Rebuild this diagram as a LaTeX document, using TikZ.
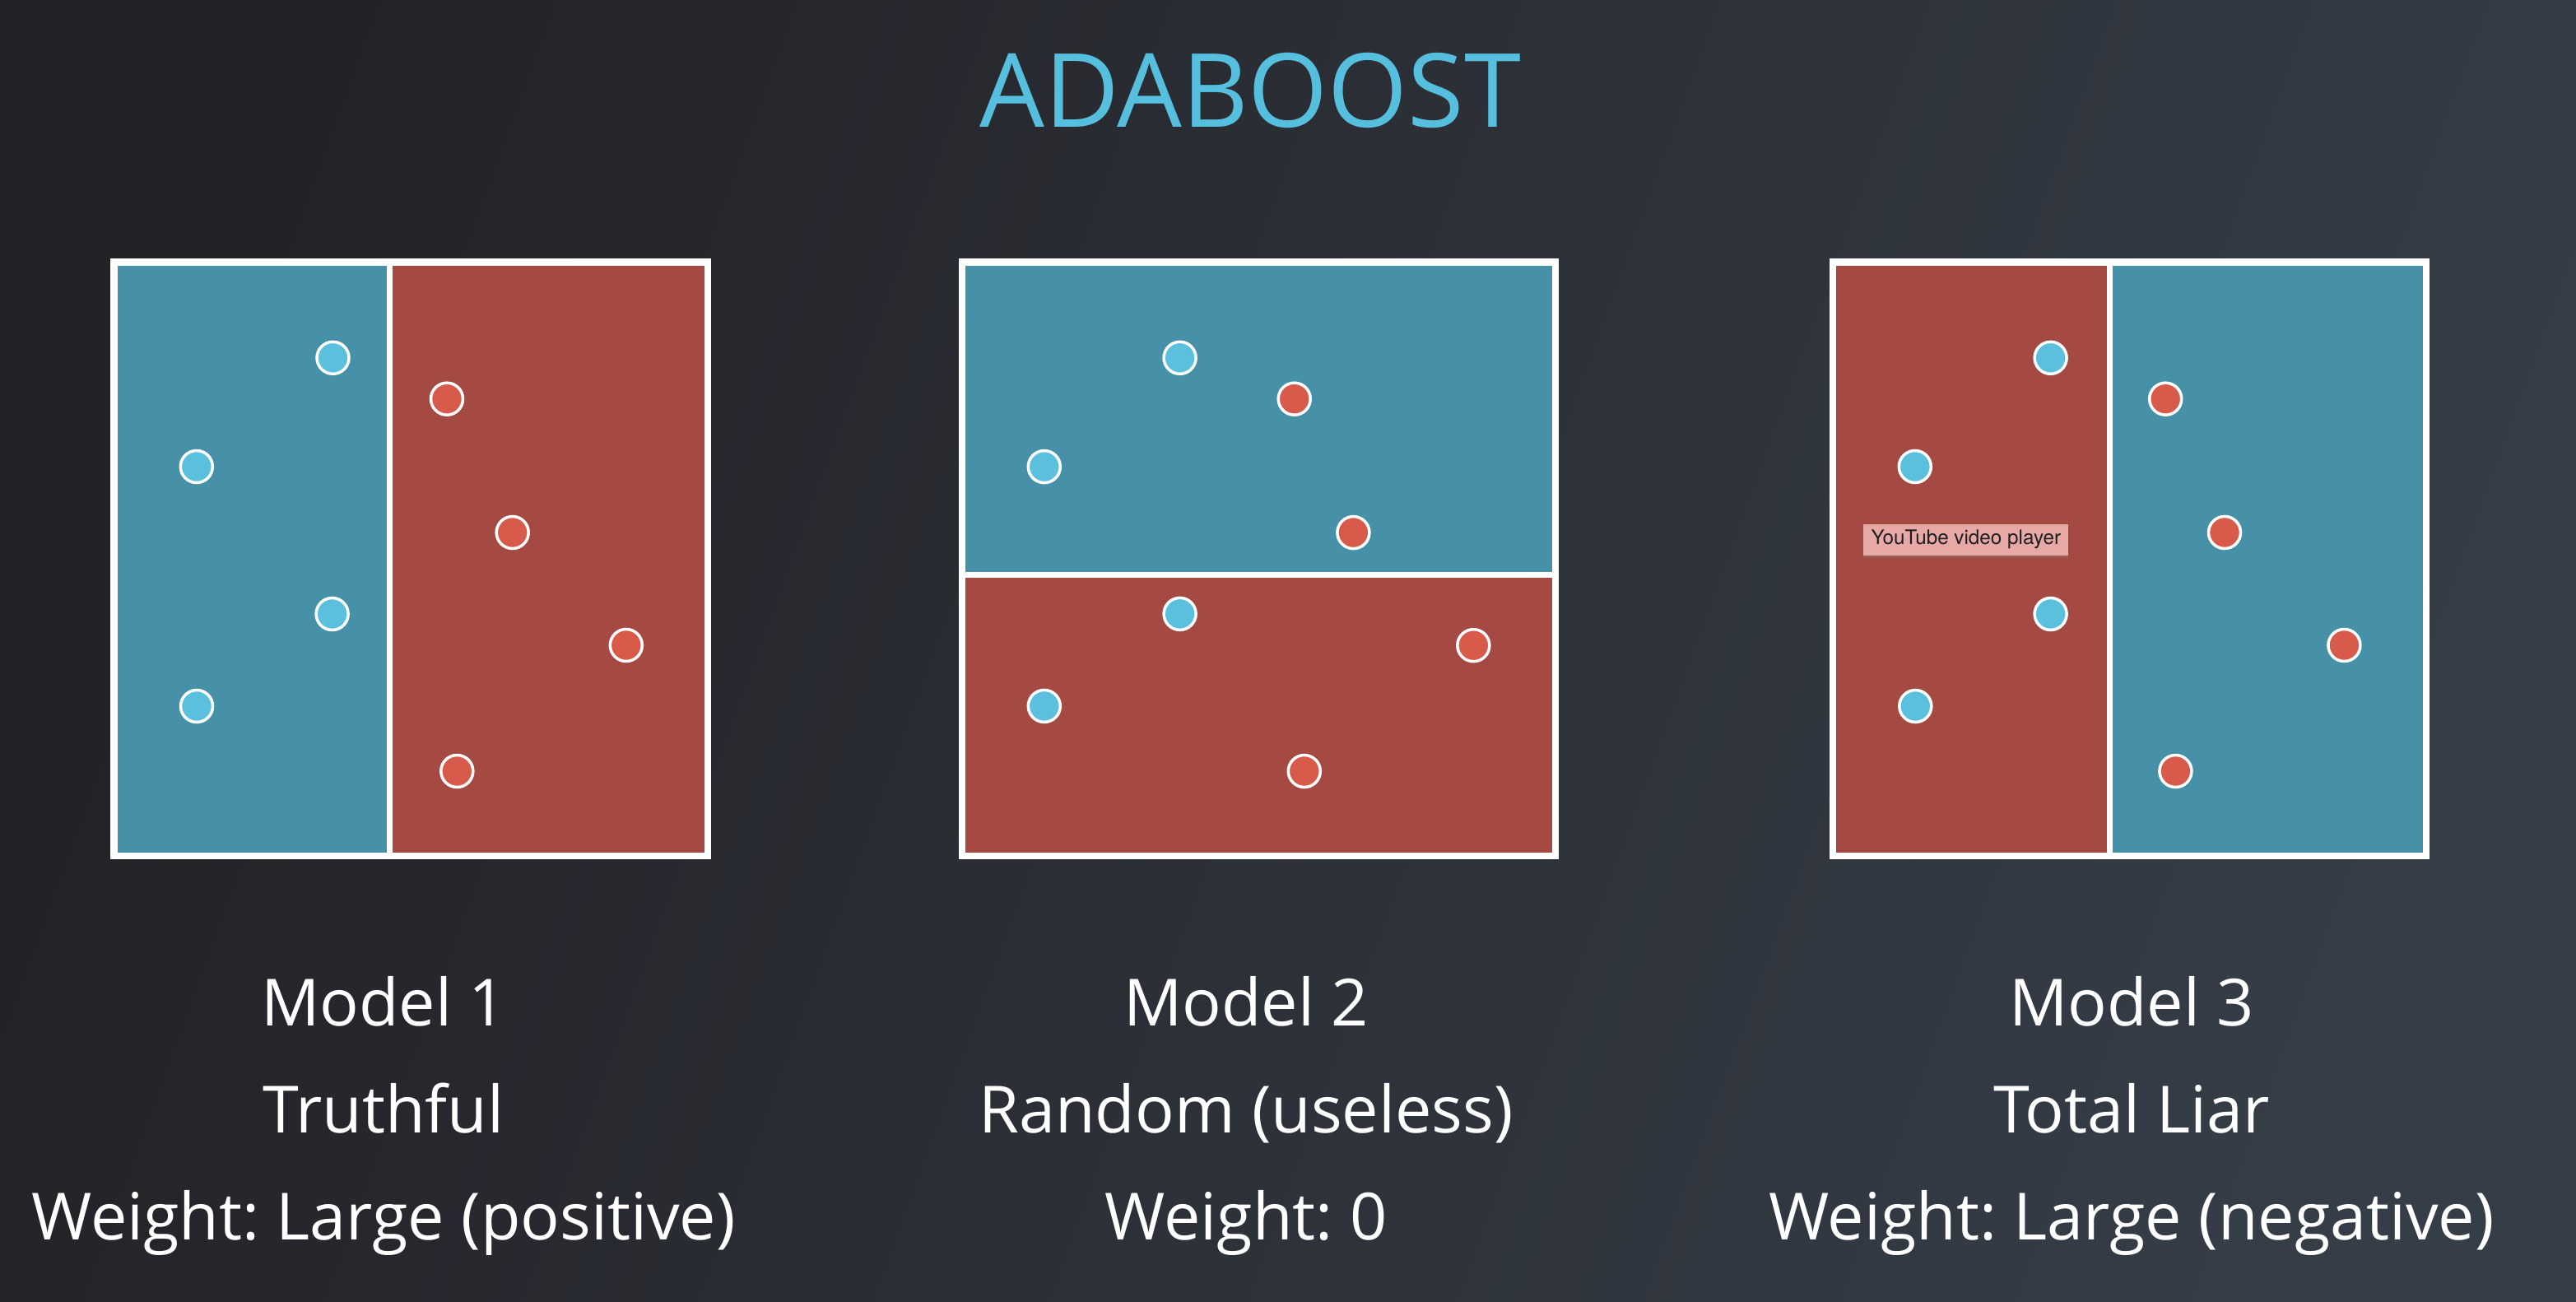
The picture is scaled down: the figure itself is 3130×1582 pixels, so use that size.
\documentclass[tikz,border=0pt]{standalone}
\usepackage{fontspec}
\setmainfont{Open Sans}
\newfontfamily\tipfont{TeX Gyre Heros}
\usetikzlibrary{shadows}
\frenchspacing
\definecolor{bgA}{HTML}{232227}
\definecolor{bgB}{HTML}{353D47}
\definecolor{zoneblue}{HTML}{4791A8}
\definecolor{zonered}{HTML}{A44A42}
\definecolor{dotblue}{HTML}{5BC0DE}
\definecolor{dotred}{HTML}{D85A4A}
\definecolor{titleblue}{HTML}{55BFDD}
\definecolor{tipfill}{HTML}{E8A9A6}
\definecolor{tiptext}{HTML}{1E1E1E}
\tikzset{
  frame/.style={draw=white, line width=8*0.2845pt},
  divider/.style={draw=white, line width=7*0.2845pt},
  bdot/.style={circle, fill=dotblue, draw=white, line width=3.5*0.2845pt, minimum size=39*0.2845pt, inner sep=0pt},
  rdot/.style={circle, fill=dotred, draw=white, line width=3.5*0.2845pt, minimum size=39*0.2845pt, inner sep=0pt},
  label/.style={anchor=base, text=white, font=\fontsize{22.5pt}{27pt}\selectfont, inner sep=0pt},
  titletext/.style={anchor=base, text=titleblue, font=\fontsize{35.4pt}{40pt}\selectfont, inner sep=0pt},
  tip/.style={anchor=north west, fill=tipfill, text=tiptext, font=\tipfont\fontsize{6.9pt}{8pt}\selectfont,
    minimum width=249*0.2845pt, minimum height=38*0.2845pt, inner sep=0pt,
    drop shadow={shadow xshift=0pt, shadow yshift=-1pt, opacity=0.35}}
}
\begin{document}
\begin{tikzpicture}[x=0.01cm, y=-0.01cm]
\useasboundingbox (0,0) rectangle (3130,1582);
\shade[left color=bgA, right color=bgB, shading angle=70] (0,0) rectangle (3130,1582);

\node[titletext] (title) at (1519,155) {ADABOOST};

% Model 1
\begin{scope}[shift={(134.5,314.5)}]
  \fill[zoneblue] (0,0) rectangle (338.5,729.5);
  \fill[zonered] (338.5,0) rectangle (729.5,729.5);
  \draw[divider] (338.5,0) -- (338.5,729.5);
  \draw[frame] (4,4) rectangle (725.5,725.5);
  \node[bdot] (m1b1) at (270,120.3) {};
  \node[bdot] (m1b2) at (104.3,252.5) {};
  \node[bdot] (m1b3) at (269.1,431.5) {};
  \node[bdot] (m1b4) at (104.5,543.5) {};
  \node[rdot] (m1r1) at (408.5,170.2) {};
  \node[rdot] (m1r2) at (488.2,332.5) {};
  \node[rdot] (m1r3) at (626.3,469.5) {};
  \node[rdot] (m1r4) at (420.8,622.5) {};
\end{scope}

% Model 2
\begin{scope}[shift={(1164.5,314.5)}]
  \fill[zoneblue] (0,0) rectangle (729.5,384);
  \fill[zonered] (0,384) rectangle (729.5,729.5);
  \draw[divider] (0,384) -- (729.5,384);
  \draw[frame] (4,4) rectangle (725.5,725.5);
  \node[bdot] (m2b1) at (269.1,120.3) {};
  \node[bdot] (m2b2) at (104.3,252.6) {};
  \node[bdot] (m2b3) at (269.1,431.4) {};
  \node[bdot] (m2b4) at (104.3,543.4) {};
  \node[rdot] (m2r1) at (408.2,170.2) {};
  \node[rdot] (m2r2) at (479.9,332.6) {};
  \node[rdot] (m2r3) at (625.8,469.7) {};
  \node[rdot] (m2r4) at (420.3,622.5) {};
\end{scope}

% Model 3
\begin{scope}[shift={(2222.5,314.5)}]
  \fill[zonered] (0,0) rectangle (340.5,729.5);
  \fill[zoneblue] (340.5,0) rectangle (729.5,729.5);
  \draw[divider] (340.5,0) -- (340.5,729.5);
  \draw[frame] (4,4) rectangle (725.5,725.5);
  \node[bdot] (m3b1) at (269.1,120.3) {};
  \node[bdot] (m3b2) at (104.3,252.5) {};
  \node[bdot] (m3b3) at (269.1,431.5) {};
  \node[bdot] (m3b4) at (104.8,543.5) {};
  \node[rdot] (m3r1) at (408.7,170.2) {};
  \node[rdot] (m3r2) at (480.5,332.5) {};
  \node[rdot] (m3r3) at (625.9,469.5) {};
  \node[rdot] (m3r4) at (420.9,622.5) {};
  \node[tip] (tooltip) at (41,321.5) {YouTube video player};
\end{scope}

% Labels
\node[label] (l1a) at (466,1246) {Model 1};
\node[label] (l1b) at (466,1376) {Truthful};
\node[label] (l1c) at (466,1506) {Weight: Large (positive)};
\node[label] (l2a) at (1514,1246) {Model 2};
\node[label] (l2b) at (1514,1376) {Random (useless)};
\node[label] (l2c) at (1514,1506) {Weight: 0};
\node[label] (l3a) at (2590,1246) {Model 3};
\node[label] (l3b) at (2590,1376) {Total Liar};
\node[label] (l3c) at (2590,1506) {Weight: Large (negative)};
\end{tikzpicture}
\end{document}
